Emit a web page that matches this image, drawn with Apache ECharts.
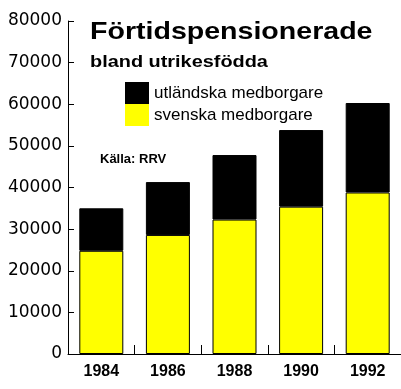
<!DOCTYPE html>
<html>
<head>
<meta charset="utf-8">
<script src="https://cdn.jsdelivr.net/npm/echarts@6/dist/echarts.min.js"></script>
<style>html,body{margin:0;padding:0;background:#fff}#c{width:401px;height:389px}</style>
</head>
<body>
<div id="c"></div>
<script>
const years = ['1984', '1986', '1988', '1990', '1992'];
const svenska = [24800, 28600, 32300, 35400, 38800];
const utlandska = [10200, 12700, 15500, 18400, 21500];
const yTicks = [0, 10000, 20000, 30000, 40000, 50000, 60000, 70000, 80000];
const titleText = 'Förtidspensionerade';
const subtitleText = 'bland utrikesfödda';
const sourceText = 'Källa: RRV';
const seriesNames = ['svenska medborgare', 'utländska medborgare'];

const chart = echarts.init(document.getElementById('c'));
chart.setOption({
  animation: false,
  backgroundColor: '#fff',
  grid: { left: 68, right: 0, top: 21, bottom: 35 },
  xAxis: {
    type: 'category',
    data: years,
    axisLine: { lineStyle: { color: '#000', width: 1 } },
    axisTick: { show: true, inside: true, length: 9, interval: 0, lineStyle: { color: '#000' } },
    axisLabel: { color: '#000', fontFamily: 'Liberation Sans', fontWeight: 'bold', fontSize: 16, margin: 10 }
  },
  yAxis: {
    type: 'value',
    min: yTicks[0],
    max: yTicks[yTicks.length - 1],
    interval: yTicks[1] - yTicks[0],
    splitLine: { show: false },
    axisLine: { show: true, lineStyle: { color: '#000', width: 1 } },
    axisTick: { show: true, inside: true, length: 6, lineStyle: { color: '#000' } },
    axisLabel: { color: '#000', fontFamily: 'DejaVu Sans', fontSize: 17, margin: 6, formatter: v => String(v) }
  },
  legend: {
    orient: 'vertical',
    left: 125,
    top: 82,
    padding: 0,
    itemWidth: 24,
    itemHeight: 22,
    itemGap: 0,
    icon: 'rect',
    data: [seriesNames[1], seriesNames[0]],
    itemStyle: { borderWidth: 0 },
    textStyle: { color: '#000', fontFamily: 'Liberation Sans', fontSize: 17 }
  },
  series: [
    {
      name: seriesNames[0], type: 'bar', stack: 'a', data: svenska, barWidth: 44,
      itemStyle: { color: '#ffff00', borderColor: '#000', borderWidth: 1 }
    },
    {
      name: seriesNames[1], type: 'bar', stack: 'a', data: utlandska, barWidth: 44,
      itemStyle: { color: '#000', borderColor: '#000', borderWidth: 1 }
    }
  ],
  graphic: [
    { type: 'text', x: 90, y: 32, scaleX: 1.19,
      style: { text: titleText, fill: '#000', font: 'bold 24px "Liberation Sans"', verticalAlign: 'middle' } },
    { type: 'text', x: 90, y: 62, scaleX: 1.17,
      style: { text: subtitleText, fill: '#000', font: 'bold 17px "Liberation Sans"', verticalAlign: 'middle' } },
    { type: 'text', x: 100, y: 159,
      style: { text: sourceText, fill: '#000', font: 'bold 13px "Liberation Sans"', verticalAlign: 'middle' } }
  ]
});
</script>
</body>
</html>
